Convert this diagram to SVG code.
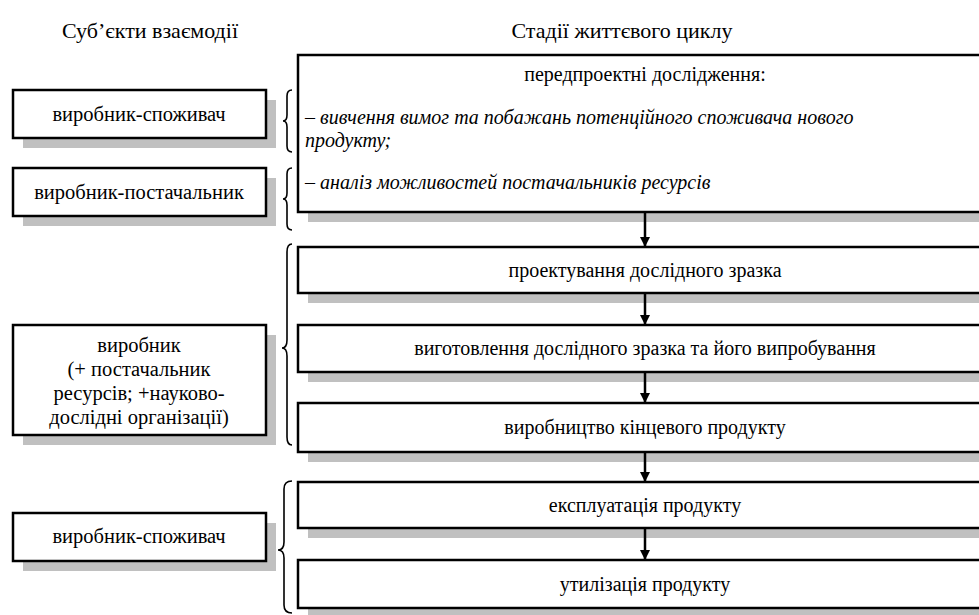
<svg xmlns="http://www.w3.org/2000/svg" width="979" height="615" viewBox="0 0 979 615">
<style>
.box{fill:#fff;stroke:#000;stroke-width:2.5}
.sh{fill:#c0c0c0}
text{font-family:'Liberation Serif','Times New Roman',serif;font-size:20px;fill:#000}
.h{font-size:22px}
.l{font-size:20.5px}
.c{text-anchor:middle}
.i{font-style:italic}
.br{fill:none;stroke:#000;stroke-width:1.6}
.ar{stroke:#000;stroke-width:2.5;fill:none}
</style>
<defs>
<marker id="ah" viewBox="0 0 10 10" refX="10" refY="5" markerWidth="10" markerHeight="10" markerUnits="userSpaceOnUse" orient="auto">
<path d="M0,0 L10,5 L0,10 Z" fill="#000"/>
</marker>
</defs>
<rect width="979" height="615" fill="#fff"/>
<text class="c h" x="150" y="38">Суб’єкти взаємодії</text>
<text class="c h" x="622" y="38">Стадії життєвого циклу</text>

<g id="s1">
<rect class="sh" x="308" y="65" width="690" height="157"/>
<rect class="box" x="298" y="55" width="690" height="157"/>
<text class="c" x="645" y="81">передпроектні дослідження:</text>
<text class="i" x="305" y="124">– вивчення вимог та побажань потенційного споживача нового</text>
<text class="i" x="305" y="147">продукту;</text>
<text class="i" x="305" y="189">– аналіз можливостей постачальників ресурсів</text>
</g>
<g id="s2">
<rect class="sh" x="308" y="257" width="690" height="46"/>
<rect class="box" x="298" y="247" width="690" height="46"/>
<text class="c" x="645" y="277">проектування дослідного зразка</text>
</g>
<g id="s3">
<rect class="sh" x="308" y="335" width="690" height="47"/>
<rect class="box" x="298" y="325" width="690" height="47"/>
<text class="c" x="645" y="355">виготовлення дослідного зразка та його випробування</text>
</g>
<g id="s4">
<rect class="sh" x="308" y="413" width="690" height="49"/>
<rect class="box" x="298" y="403" width="690" height="49"/>
<text class="c" x="645" y="434">виробництво кінцевого продукту</text>
</g>
<g id="s5">
<rect class="sh" x="308" y="492" width="690" height="46"/>
<rect class="box" x="298" y="482" width="690" height="46"/>
<text class="c" x="645" y="512">експлуатація продукту</text>
</g>
<g id="s6">
<rect class="sh" x="308" y="570" width="690" height="48"/>
<rect class="box" x="298" y="560" width="690" height="48"/>
<text class="c" x="645" y="591">утилізація продукту</text>
</g>

<g id="a1">
<rect class="sh" x="23" y="100" width="253" height="48"/>
<rect class="box" x="13" y="90" width="253" height="48"/>
<text class="c l" x="139" y="121">виробник-споживач</text>
</g>
<g id="a2">
<rect class="sh" x="23" y="178" width="253" height="48"/>
<rect class="box" x="13" y="168" width="253" height="48"/>
<text class="c l" x="139" y="199">виробник-постачальник</text>
</g>
<g id="a3">
<rect class="sh" x="23" y="335" width="253" height="110"/>
<rect class="box" x="13" y="325" width="253" height="110"/>
<text class="c l" x="139" y="352">виробник</text>
<text class="c l" x="139" y="376">(+ постачальник</text>
<text class="c l" x="139" y="400">ресурсів; +науково-</text>
<text class="c l" x="139" y="424">дослідні організації)</text>
</g>
<g id="a4">
<rect class="sh" x="23" y="523" width="253" height="48"/>
<rect class="box" x="13" y="513" width="253" height="48"/>
<text class="c l" x="139" y="543">виробник-споживач</text>
</g>

<g id="connectors">
<path class="br" d="M292,90 Q287,90 287,96 L287,115 Q287,121 283,121 Q287,121 287,127 L287,146 Q287,152 292,152"/>
<path class="br" d="M292,168 Q287,168 287,174 L287,193 Q287,199 283,199 Q287,199 287,205 L287,224 Q287,230 292,230"/>
<path class="br" d="M292,244 Q287,244 287,252 L287,340 Q287,348 282,348 Q287,348 287,356 L287,437 Q287,445 292,445"/>
<path class="br" d="M292,481 Q284,481 284,489 L284,542 Q284,550 278,550 Q284,550 284,558 L284,605 Q284,613 292,613"/>
<line class="ar" x1="645" y1="212" x2="645" y2="247" marker-end="url(#ah)"/>
<line class="ar" x1="645" y1="293" x2="645" y2="325" marker-end="url(#ah)"/>
<line class="ar" x1="645" y1="372" x2="645" y2="403" marker-end="url(#ah)"/>
<line class="ar" x1="645" y1="452" x2="645" y2="482" marker-end="url(#ah)"/>
<line class="ar" x1="645" y1="528" x2="645" y2="560" marker-end="url(#ah)"/>
</g>
</svg>
